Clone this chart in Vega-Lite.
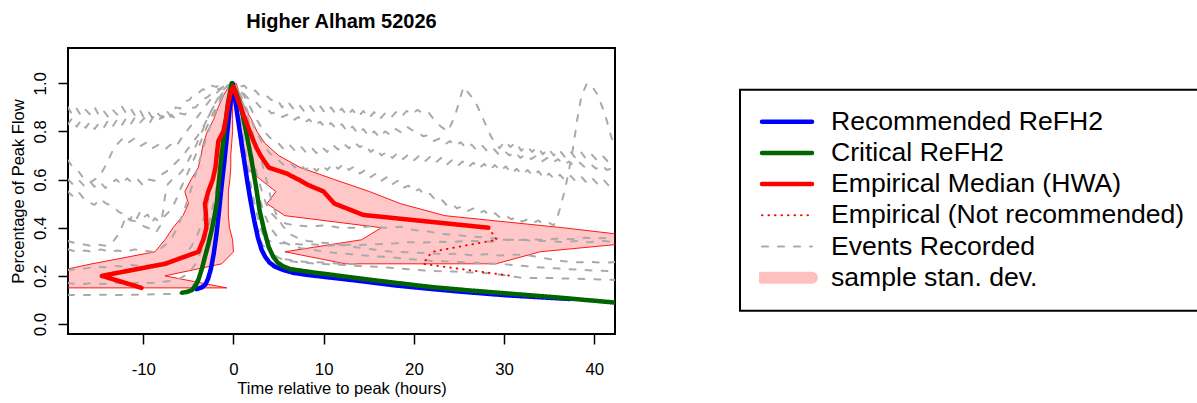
{
  "$schema": "https://vega.github.io/schema/vega-lite/v6.json",
  "width": 547,
  "height": 286,
  "autosize": {"type": "none"},
  "padding": {"left": 68, "top": 48, "right": 582, "bottom": 69},
  "background": "white",
  "title": {"text": "Higher Alham 52026", "font": "Liberation Sans", "fontSize": 20, "fontWeight": "bold", "color": "black", "anchor": "middle", "baseline": "alphabetic", "offset": 0},
  "config": {
    "view": {"stroke": "black", "strokeWidth": 2},
    "axis": {"domain": false, "grid": false, "tickColor": "black", "tickSize": 10, "tickWidth": 1.5, "labelFont": "Liberation Sans", "labelFontSize": 16.8, "labelColor": "black", "titleFont": "Liberation Sans", "titleFontSize": 16.5, "titleFontWeight": "normal", "titleColor": "black", "labelOverlap": false, "labelFlush": false},
    "legend": {"orient": "none", "legendX": 672, "legendY": 41.7, "padding": 19, "rowPadding": 4.2, "clipHeight": 26, "symbolType": "stroke", "symbolSize": 2500, "symbolOffset": -3, "labelOffset": 13, "labelFont": "Liberation Sans", "labelFontSize": 26.6, "labelColor": "black", "labelLimit": 700, "strokeColor": "black", "fillColor": "white"}
  },
  "datasets": {
    "band": [
      {"i":0,"x":-26,"y":0.15},{"i":1,"x":-22,"y":0.2},{"i":2,"x":-15.7,"y":0.25},{"i":3,"x":-8.7,"y":0.3},{"i":4,"x":-7.6,"y":0.35},{"i":5,"x":-6.7,"y":0.4},{"i":6,"x":-5.6,"y":0.45},{"i":7,"x":-5.0,"y":0.5},{"i":8,"x":-5.4,"y":0.55},{"i":9,"x":-4.7,"y":0.6},{"i":10,"x":-3.9,"y":0.65},{"i":11,"x":-3.6,"y":0.7},{"i":12,"x":-3.35,"y":0.75},{"i":13,"x":-2.9,"y":0.8},{"i":14,"x":-2.2,"y":0.85},{"i":15,"x":-1.7,"y":0.9},{"i":16,"x":-1.1,"y":0.95},{"i":17,"x":-0.3,"y":1.0},
      {"i":18,"x":0.3,"y":1.0},{"i":19,"x":0.7,"y":0.95},{"i":20,"x":1.2,"y":0.9},{"i":21,"x":2.0,"y":0.85},{"i":22,"x":2.6,"y":0.8},{"i":23,"x":3.5,"y":0.75},{"i":24,"x":5.0,"y":0.7},{"i":25,"x":7.4,"y":0.65},{"i":26,"x":11.2,"y":0.6},{"i":27,"x":15.1,"y":0.55},{"i":28,"x":18.5,"y":0.5},{"i":29,"x":23.45,"y":0.45},{"i":30,"x":36.5,"y":0.4},{"i":31,"x":48,"y":0.35},{"i":32,"x":34,"y":0.3},{"i":33,"x":29.1,"y":0.25},
      {"i":34,"x":12.4,"y":0.25},{"i":35,"x":5.7,"y":0.3},{"i":36,"x":14.2,"y":0.35},{"i":37,"x":16.4,"y":0.4},{"i":38,"x":5.7,"y":0.45},{"i":39,"x":3.7,"y":0.5},{"i":40,"x":4.7,"y":0.55},{"i":41,"x":3.0,"y":0.6},{"i":42,"x":1.4,"y":0.65},{"i":43,"x":0.9,"y":0.7},{"i":44,"x":0.7,"y":0.75},{"i":45,"x":0.55,"y":0.8},{"i":46,"x":0.4,"y":0.85},{"i":47,"x":0.3,"y":0.9},{"i":48,"x":0.15,"y":0.95},{"i":49,"x":0.05,"y":1.0},
      {"i":50,"x":-0.05,"y":1.0},{"i":51,"x":-0.1,"y":0.95},{"i":52,"x":-0.1,"y":0.9},{"i":53,"x":-0.1,"y":0.85},{"i":54,"x":-0.1,"y":0.8},{"i":55,"x":-0.2,"y":0.75},{"i":56,"x":-0.3,"y":0.7},{"i":57,"x":-0.3,"y":0.65},{"i":58,"x":-0.4,"y":0.6},{"i":59,"x":-0.57,"y":0.55},{"i":60,"x":-0.57,"y":0.5},{"i":61,"x":-0.57,"y":0.45},{"i":62,"x":-0.45,"y":0.4},{"i":63,"x":-0.1,"y":0.35},{"i":64,"x":0.0,"y":0.3},{"i":65,"x":-1.3,"y":0.25},{"i":66,"x":-7.6,"y":0.2},{"i":67,"x":-0.75,"y":0.15}
    ],
    "events": [
      {"e":1,"x":-18.35,"y":0.9},{"e":1,"x":-17.9,"y":0.87},{"e":1,"x":-17.4,"y":0.895},{"e":1,"x":-16.9,"y":0.865},{"e":1,"x":-16.4,"y":0.89},{"e":1,"x":-15.9,"y":0.87},{"e":1,"x":-15.4,"y":0.9},{"e":1,"x":-14.9,"y":0.865},{"e":1,"x":-14.4,"y":0.885},{"e":1,"x":-13.9,"y":0.86},{"e":1,"x":-13.4,"y":0.89},{"e":1,"x":-12.9,"y":0.87},{"e":1,"x":-12.4,"y":0.905},{"e":1,"x":-11.9,"y":0.875},{"e":1,"x":-11.4,"y":0.895},{"e":1,"x":-10.9,"y":0.865},{"e":1,"x":-10.4,"y":0.89},{"e":1,"x":-9.9,"y":0.855},{"e":1,"x":-9.4,"y":0.88},{"e":1,"x":-8.9,"y":0.85},{"e":1,"x":-8.4,"y":0.875},{"e":1,"x":-7.9,"y":0.855},{"e":1,"x":-7.4,"y":0.885},{"e":1,"x":-6.9,"y":0.86},{"e":1,"x":-6.4,"y":0.9},{"e":1,"x":-5.9,"y":0.895},{"e":1,"x":-5.4,"y":0.925},{"e":1,"x":-4.9,"y":0.93},{"e":1,"x":-4.4,"y":0.955},{"e":1,"x":-3.9,"y":0.96},{"e":1,"x":-3.4,"y":0.975},{"e":1,"x":-2.9,"y":0.97},{"e":1,"x":-2.4,"y":0.99},{"e":1,"x":-1.9,"y":0.985},{"e":1,"x":-1.4,"y":0.995},{"e":1,"x":-0.7,"y":0.99},{"e":1,"x":0,"y":1.0},{"e":1,"x":0.6,"y":0.985},{"e":1,"x":1.2,"y":0.99},{"e":1,"x":1.8,"y":0.965},{"e":1,"x":2.4,"y":0.97},{"e":1,"x":3,"y":0.945},{"e":1,"x":3.6,"y":0.95},{"e":1,"x":4.2,"y":0.93},{"e":1,"x":4.8,"y":0.935},{"e":1,"x":5.4,"y":0.9},{"e":1,"x":6,"y":0.925},{"e":1,"x":6.6,"y":0.895},{"e":1,"x":7.2,"y":0.915},{"e":1,"x":7.8,"y":0.885},{"e":1,"x":8.4,"y":0.91},{"e":1,"x":9,"y":0.88},{"e":1,"x":9.6,"y":0.905},{"e":1,"x":10.2,"y":0.875},{"e":1,"x":10.8,"y":0.9},{"e":1,"x":11.4,"y":0.87},{"e":1,"x":12,"y":0.895},{"e":1,"x":12.6,"y":0.865},{"e":1,"x":13.2,"y":0.89},{"e":1,"x":13.8,"y":0.86},{"e":1,"x":14.4,"y":0.885},{"e":1,"x":15,"y":0.855},{"e":1,"x":15.6,"y":0.88},{"e":1,"x":16.2,"y":0.85},{"e":1,"x":16.8,"y":0.875},{"e":1,"x":17.4,"y":0.855},{"e":1,"x":18,"y":0.88},{"e":1,"x":18.6,"y":0.86},{"e":1,"x":19.2,"y":0.885},{"e":1,"x":19.8,"y":0.87},{"e":1,"x":20.4,"y":0.89},{"e":1,"x":21,"y":0.875},{"e":1,"x":21.6,"y":0.88},{"e":1,"x":22.2,"y":0.85},{"e":1,"x":23,"y":0.82},{"e":1,"x":23.8,"y":0.8},{"e":1,"x":24.6,"y":0.87},{"e":1,"x":25.5,"y":0.985},{"e":1,"x":26.8,"y":0.925},{"e":1,"x":27.7,"y":0.85},{"e":1,"x":28.6,"y":0.775},{"e":1,"x":29.5,"y":0.73},{"e":1,"x":30.1,"y":0.76},{"e":1,"x":30.7,"y":0.735},{"e":1,"x":31.3,"y":0.755},{"e":1,"x":31.9,"y":0.72},{"e":1,"x":32.5,"y":0.74},{"e":1,"x":33.1,"y":0.715},{"e":1,"x":33.7,"y":0.735},{"e":1,"x":34.3,"y":0.705},{"e":1,"x":34.9,"y":0.73},{"e":1,"x":35.5,"y":0.7},{"e":1,"x":36.1,"y":0.725},{"e":1,"x":36.7,"y":0.695},{"e":1,"x":37.3,"y":0.72},{"e":1,"x":37.9,"y":0.69},{"e":1,"x":38.5,"y":0.715},{"e":1,"x":39.1,"y":0.685},{"e":1,"x":39.7,"y":0.705},{"e":1,"x":40.3,"y":0.68},{"e":1,"x":40.9,"y":0.7},{"e":1,"x":41.5,"y":0.675},{"e":1,"x":42.3,"y":0.695},
      {"e":2,"x":-18.35,"y":0.83},{"e":2,"x":-17.9,"y":0.855},{"e":2,"x":-17.4,"y":0.82},{"e":2,"x":-16.9,"y":0.845},{"e":2,"x":-16.4,"y":0.815},{"e":2,"x":-15.9,"y":0.84},{"e":2,"x":-15.4,"y":0.81},{"e":2,"x":-14.9,"y":0.835},{"e":2,"x":-14.4,"y":0.815},{"e":2,"x":-13.9,"y":0.845},{"e":2,"x":-13.4,"y":0.82},{"e":2,"x":-12.9,"y":0.85},{"e":2,"x":-12.4,"y":0.825},{"e":2,"x":-11.9,"y":0.855},{"e":2,"x":-11.4,"y":0.83},{"e":2,"x":-10.9,"y":0.86},{"e":2,"x":-10.4,"y":0.835},{"e":2,"x":-9.9,"y":0.855},{"e":2,"x":-9.4,"y":0.83},{"e":2,"x":-8.9,"y":0.86},{"e":2,"x":-8.4,"y":0.84},{"e":2,"x":-7.9,"y":0.865},{"e":2,"x":-7.4,"y":0.845},{"e":2,"x":-6.9,"y":0.87},{"e":2,"x":-6.4,"y":0.85},{"e":2,"x":-5.9,"y":0.875},{"e":2,"x":-5.4,"y":0.87},{"e":2,"x":-4.9,"y":0.895},{"e":2,"x":-4.2,"y":0.9},{"e":2,"x":-3.5,"y":0.93},{"e":2,"x":-2.8,"y":0.945},{"e":2,"x":-2.1,"y":0.97},{"e":2,"x":-1.4,"y":0.98},{"e":2,"x":-0.7,"y":0.995},{"e":2,"x":0,"y":1.0},{"e":2,"x":0.6,"y":0.97},{"e":2,"x":1.2,"y":0.955},{"e":2,"x":1.8,"y":0.93},{"e":2,"x":2.4,"y":0.925},{"e":2,"x":3,"y":0.9},{"e":2,"x":3.6,"y":0.9},{"e":2,"x":4.2,"y":0.875},{"e":2,"x":4.8,"y":0.88},{"e":2,"x":5.4,"y":0.86},{"e":2,"x":6,"y":0.87},{"e":2,"x":6.6,"y":0.845},{"e":2,"x":7.2,"y":0.86},{"e":2,"x":7.8,"y":0.835},{"e":2,"x":8.4,"y":0.85},{"e":2,"x":9,"y":0.825},{"e":2,"x":9.6,"y":0.84},{"e":2,"x":10.2,"y":0.815},{"e":2,"x":10.8,"y":0.835},{"e":2,"x":11.4,"y":0.81},{"e":2,"x":12,"y":0.83},{"e":2,"x":12.6,"y":0.8},{"e":2,"x":13.2,"y":0.82},{"e":2,"x":13.8,"y":0.79},{"e":2,"x":14.4,"y":0.81},{"e":2,"x":15,"y":0.78},{"e":2,"x":15.6,"y":0.8},{"e":2,"x":16.2,"y":0.775},{"e":2,"x":16.8,"y":0.8},{"e":2,"x":17.4,"y":0.785},{"e":2,"x":18,"y":0.81},{"e":2,"x":18.6,"y":0.795},{"e":2,"x":19.2,"y":0.82},{"e":2,"x":19.8,"y":0.805},{"e":2,"x":20.4,"y":0.8},{"e":2,"x":21,"y":0.78},{"e":2,"x":21.6,"y":0.785},{"e":2,"x":22.2,"y":0.76},{"e":2,"x":22.8,"y":0.77},{"e":2,"x":23.4,"y":0.745},{"e":2,"x":24,"y":0.76},{"e":2,"x":24.6,"y":0.74},{"e":2,"x":25.2,"y":0.755},{"e":2,"x":25.8,"y":0.73},{"e":2,"x":26.4,"y":0.745},{"e":2,"x":27,"y":0.72},{"e":2,"x":27.6,"y":0.74},{"e":2,"x":28.2,"y":0.715},{"e":2,"x":28.8,"y":0.73},{"e":2,"x":29.4,"y":0.705},{"e":2,"x":30,"y":0.72},{"e":2,"x":30.6,"y":0.7},{"e":2,"x":31.2,"y":0.715},{"e":2,"x":31.8,"y":0.69},{"e":2,"x":32.4,"y":0.705},{"e":2,"x":33,"y":0.685},{"e":2,"x":33.6,"y":0.7},{"e":2,"x":34.2,"y":0.675},{"e":2,"x":34.8,"y":0.69},{"e":2,"x":35.4,"y":0.67},{"e":2,"x":36,"y":0.685},{"e":2,"x":36.6,"y":0.66},{"e":2,"x":37.2,"y":0.675},{"e":2,"x":37.8,"y":0.655},{"e":2,"x":38.4,"y":0.67},{"e":2,"x":39,"y":0.65},{"e":2,"x":39.6,"y":0.665},{"e":2,"x":40.2,"y":0.645},{"e":2,"x":40.8,"y":0.66},{"e":2,"x":41.4,"y":0.64},{"e":2,"x":42.3,"y":0.65},
      {"e":3,"x":-18.35,"y":0.68},{"e":3,"x":-17.8,"y":0.65},{"e":3,"x":-17.2,"y":0.635},{"e":3,"x":-16.5,"y":0.6},{"e":3,"x":-15.8,"y":0.59},{"e":3,"x":-15.2,"y":0.605},{"e":3,"x":-14.6,"y":0.63},{"e":3,"x":-14,"y":0.67},{"e":3,"x":-13.4,"y":0.72},{"e":3,"x":-12.8,"y":0.75},{"e":3,"x":-12.2,"y":0.775},{"e":3,"x":-11.6,"y":0.755},{"e":3,"x":-11,"y":0.77},{"e":3,"x":-10.3,"y":0.74},{"e":3,"x":-9.6,"y":0.755},{"e":3,"x":-9,"y":0.73},{"e":3,"x":-8.3,"y":0.745},{"e":3,"x":-7.6,"y":0.725},{"e":3,"x":-7,"y":0.745},{"e":3,"x":-6.4,"y":0.735},{"e":3,"x":-5.8,"y":0.77},{"e":3,"x":-5.2,"y":0.8},{"e":3,"x":-4.6,"y":0.83},{"e":3,"x":-4,"y":0.86},{"e":3,"x":-3.2,"y":0.9},{"e":3,"x":-2.4,"y":0.94},{"e":3,"x":-1.6,"y":0.97},{"e":3,"x":-0.8,"y":0.99},{"e":3,"x":0,"y":1.0},{"e":3,"x":0.8,"y":0.97},{"e":3,"x":1.6,"y":0.92},{"e":3,"x":2.4,"y":0.86},{"e":3,"x":3.2,"y":0.81},{"e":3,"x":4,"y":0.775},{"e":3,"x":5,"y":0.75},{"e":3,"x":5.6,"y":0.725},{"e":3,"x":6.2,"y":0.745},{"e":3,"x":6.8,"y":0.72},{"e":3,"x":7.4,"y":0.74},{"e":3,"x":8,"y":0.715},{"e":3,"x":8.6,"y":0.735},{"e":3,"x":9.2,"y":0.71},{"e":3,"x":9.8,"y":0.735},{"e":3,"x":10.4,"y":0.715},{"e":3,"x":11,"y":0.745},{"e":3,"x":11.6,"y":0.725},{"e":3,"x":12.2,"y":0.75},{"e":3,"x":12.8,"y":0.73},{"e":3,"x":13.4,"y":0.755},{"e":3,"x":14,"y":0.735},{"e":3,"x":14.6,"y":0.745},{"e":3,"x":15.2,"y":0.715},{"e":3,"x":15.8,"y":0.73},{"e":3,"x":16.4,"y":0.7},{"e":3,"x":17,"y":0.715},{"e":3,"x":17.6,"y":0.69},{"e":3,"x":18.2,"y":0.71},{"e":3,"x":18.8,"y":0.685},{"e":3,"x":19.4,"y":0.705},{"e":3,"x":20,"y":0.68},{"e":3,"x":20.6,"y":0.7},{"e":3,"x":21.2,"y":0.675},{"e":3,"x":21.8,"y":0.695},{"e":3,"x":22.4,"y":0.67},{"e":3,"x":23,"y":0.69},{"e":3,"x":23.6,"y":0.66},{"e":3,"x":24.2,"y":0.68},{"e":3,"x":24.8,"y":0.655},{"e":3,"x":25.4,"y":0.675},{"e":3,"x":26,"y":0.65},{"e":3,"x":26.6,"y":0.67},{"e":3,"x":27.2,"y":0.645},{"e":3,"x":27.8,"y":0.665},{"e":3,"x":28.4,"y":0.64},{"e":3,"x":29,"y":0.66},{"e":3,"x":29.6,"y":0.635},{"e":3,"x":30.2,"y":0.655},{"e":3,"x":30.8,"y":0.625},{"e":3,"x":31.4,"y":0.645},{"e":3,"x":32,"y":0.62},{"e":3,"x":32.6,"y":0.64},{"e":3,"x":33.2,"y":0.615},{"e":3,"x":33.8,"y":0.635},{"e":3,"x":34.4,"y":0.605},{"e":3,"x":35,"y":0.625},{"e":3,"x":35.6,"y":0.6},{"e":3,"x":36.2,"y":0.62},{"e":3,"x":36.8,"y":0.595},{"e":3,"x":37.4,"y":0.615},{"e":3,"x":38,"y":0.59},{"e":3,"x":38.6,"y":0.61},{"e":3,"x":39.2,"y":0.585},{"e":3,"x":39.8,"y":0.605},{"e":3,"x":40.4,"y":0.58},{"e":3,"x":41,"y":0.6},{"e":3,"x":41.6,"y":0.575},{"e":3,"x":42.3,"y":0.59},
      {"e":4,"x":-18.35,"y":0.6},{"e":4,"x":-17.8,"y":0.58},{"e":4,"x":-17.2,"y":0.6},{"e":4,"x":-16.6,"y":0.575},{"e":4,"x":-16,"y":0.595},{"e":4,"x":-15.4,"y":0.57},{"e":4,"x":-14.8,"y":0.59},{"e":4,"x":-14.2,"y":0.565},{"e":4,"x":-13.6,"y":0.585},{"e":4,"x":-13,"y":0.6},{"e":4,"x":-12.4,"y":0.58},{"e":4,"x":-11.8,"y":0.605},{"e":4,"x":-11.2,"y":0.585},{"e":4,"x":-10.6,"y":0.6},{"e":4,"x":-10,"y":0.575},{"e":4,"x":-9.4,"y":0.6},{"e":4,"x":-8.8,"y":0.595},{"e":4,"x":-8,"y":0.62},{"e":4,"x":-7.2,"y":0.64},{"e":4,"x":-6.4,"y":0.67},{"e":4,"x":-5.6,"y":0.7},{"e":4,"x":-4.8,"y":0.74},{"e":4,"x":-4,"y":0.78},{"e":4,"x":-3.2,"y":0.83},{"e":4,"x":-2.4,"y":0.89},{"e":4,"x":-1.6,"y":0.94},{"e":4,"x":-0.8,"y":0.98},{"e":4,"x":0,"y":1.0},{"e":4,"x":0.8,"y":0.95},{"e":4,"x":1.6,"y":0.88},{"e":4,"x":2.4,"y":0.81},{"e":4,"x":3.2,"y":0.75},{"e":4,"x":4,"y":0.71},{"e":4,"x":5,"y":0.68},{"e":4,"x":5.6,"y":0.66},{"e":4,"x":6.2,"y":0.675},{"e":4,"x":6.8,"y":0.65},{"e":4,"x":7.4,"y":0.665},{"e":4,"x":8,"y":0.64},{"e":4,"x":8.6,"y":0.66},{"e":4,"x":9.2,"y":0.635},{"e":4,"x":9.8,"y":0.66},{"e":4,"x":10.4,"y":0.64},{"e":4,"x":11,"y":0.665},{"e":4,"x":11.6,"y":0.645},{"e":4,"x":12.2,"y":0.665},{"e":4,"x":12.8,"y":0.64},{"e":4,"x":13.4,"y":0.655},{"e":4,"x":14,"y":0.625},{"e":4,"x":14.6,"y":0.64},{"e":4,"x":15.2,"y":0.61},{"e":4,"x":15.8,"y":0.625},{"e":4,"x":16.4,"y":0.595},{"e":4,"x":17,"y":0.61},{"e":4,"x":17.6,"y":0.58},{"e":4,"x":18.2,"y":0.595},{"e":4,"x":18.8,"y":0.565},{"e":4,"x":19.4,"y":0.575},{"e":4,"x":20,"y":0.55},{"e":4,"x":20.6,"y":0.56},{"e":4,"x":21.2,"y":0.535},{"e":4,"x":21.8,"y":0.54},{"e":4,"x":22.4,"y":0.515},{"e":4,"x":23,"y":0.52},{"e":4,"x":23.6,"y":0.495},{"e":4,"x":24.2,"y":0.5},{"e":4,"x":24.8,"y":0.48},{"e":4,"x":25.4,"y":0.49},{"e":4,"x":26,"y":0.47},{"e":4,"x":26.6,"y":0.48},{"e":4,"x":27.2,"y":0.46},{"e":4,"x":27.8,"y":0.47},{"e":4,"x":28.4,"y":0.45},{"e":4,"x":29,"y":0.46},{"e":4,"x":29.6,"y":0.44},{"e":4,"x":30.2,"y":0.45},{"e":4,"x":30.8,"y":0.435},{"e":4,"x":31.4,"y":0.445},{"e":4,"x":32,"y":0.425},{"e":4,"x":32.6,"y":0.435},{"e":4,"x":33.2,"y":0.42},{"e":4,"x":33.8,"y":0.43},{"e":4,"x":34.4,"y":0.415},{"e":4,"x":35,"y":0.42},{"e":4,"x":35.5,"y":0.41},{"e":4,"x":35.8,"y":0.43},{"e":4,"x":36.2,"y":0.48},{"e":4,"x":36.7,"y":0.55},{"e":4,"x":37.1,"y":0.62},{"e":4,"x":37.6,"y":0.72},{"e":4,"x":38.2,"y":0.87},{"e":4,"x":38.6,"y":0.95},{"e":4,"x":39.2,"y":1.0},{"e":4,"x":39.8,"y":0.985},{"e":4,"x":40.4,"y":0.95},{"e":4,"x":41.2,"y":0.87},{"e":4,"x":41.9,"y":0.775},{"e":4,"x":42.3,"y":0.74},
      {"e":5,"x":-18.35,"y":0.55},{"e":5,"x":-17.8,"y":0.53},{"e":5,"x":-17.2,"y":0.55},{"e":5,"x":-16.6,"y":0.52},{"e":5,"x":-16,"y":0.505},{"e":5,"x":-15.4,"y":0.495},{"e":5,"x":-14.8,"y":0.52},{"e":5,"x":-14.1,"y":0.5},{"e":5,"x":-13.4,"y":0.49},{"e":5,"x":-12.7,"y":0.465},{"e":5,"x":-12,"y":0.455},{"e":5,"x":-11.3,"y":0.43},{"e":5,"x":-10.6,"y":0.425},{"e":5,"x":-9.9,"y":0.405},{"e":5,"x":-9.2,"y":0.395},{"e":5,"x":-8.6,"y":0.38},{"e":5,"x":-8.1,"y":0.41},{"e":5,"x":-7.8,"y":0.47},{"e":5,"x":-7.6,"y":0.53},{"e":5,"x":-7.3,"y":0.58},{"e":5,"x":-6.8,"y":0.6},{"e":5,"x":-6.2,"y":0.615},{"e":5,"x":-5.6,"y":0.64},{"e":5,"x":-5,"y":0.68},{"e":5,"x":-4.3,"y":0.73},{"e":5,"x":-3.6,"y":0.79},{"e":5,"x":-2.8,"y":0.86},{"e":5,"x":-2,"y":0.92},{"e":5,"x":-1.2,"y":0.97},{"e":5,"x":-0.5,"y":0.995},{"e":5,"x":0,"y":1.0},{"e":5,"x":0.6,"y":0.96},{"e":5,"x":1.2,"y":0.9},{"e":5,"x":1.8,"y":0.83},{"e":5,"x":2.4,"y":0.76},{"e":5,"x":3,"y":0.69},{"e":5,"x":3.5,"y":0.62},{"e":5,"x":3.9,"y":0.56},{"e":5,"x":4.3,"y":0.5},{"e":5,"x":4.8,"y":0.45},{"e":5,"x":5.4,"y":0.41},{"e":5,"x":6.2,"y":0.375},{"e":5,"x":7.2,"y":0.356},{"e":5,"x":8.2,"y":0.345},{"e":5,"x":9.3,"y":0.34},{"e":5,"x":10.5,"y":0.335},{"e":5,"x":11.7,"y":0.33},{"e":5,"x":13,"y":0.322},{"e":5,"x":14.4,"y":0.315},{"e":5,"x":16,"y":0.307},{"e":5,"x":17.6,"y":0.3},{"e":5,"x":19.4,"y":0.298},{"e":5,"x":21.8,"y":0.294},{"e":5,"x":23.5,"y":0.29},{"e":5,"x":25,"y":0.292},{"e":5,"x":26.5,"y":0.285},{"e":5,"x":28,"y":0.29},{"e":5,"x":29.5,"y":0.285},{"e":5,"x":31,"y":0.288},{"e":5,"x":32.3,"y":0.287},{"e":5,"x":33.5,"y":0.28},{"e":5,"x":35,"y":0.27},{"e":5,"x":36.4,"y":0.262},{"e":5,"x":37.9,"y":0.256},{"e":5,"x":39.5,"y":0.258},{"e":5,"x":41,"y":0.255},{"e":5,"x":42.3,"y":0.257},
      {"e":6,"x":-18.35,"y":0.345},{"e":6,"x":-17.5,"y":0.335},{"e":6,"x":-16.6,"y":0.33},{"e":6,"x":-15.8,"y":0.325},{"e":6,"x":-15,"y":0.33},{"e":6,"x":-14.2,"y":0.325},{"e":6,"x":-13.4,"y":0.34},{"e":6,"x":-12.8,"y":0.37},{"e":6,"x":-12.3,"y":0.41},{"e":6,"x":-11.9,"y":0.45},{"e":6,"x":-11.5,"y":0.43},{"e":6,"x":-11.1,"y":0.46},{"e":6,"x":-10.7,"y":0.44},{"e":6,"x":-10.3,"y":0.47},{"e":6,"x":-9.9,"y":0.445},{"e":6,"x":-9.5,"y":0.455},{"e":6,"x":-9.1,"y":0.42},{"e":6,"x":-8.7,"y":0.44},{"e":6,"x":-8.3,"y":0.425},{"e":6,"x":-7.9,"y":0.44},{"e":6,"x":-7.3,"y":0.46},{"e":6,"x":-6.7,"y":0.49},{"e":6,"x":-6.2,"y":0.53},{"e":6,"x":-5.9,"y":0.56},{"e":6,"x":-5.4,"y":0.6},{"e":6,"x":-4.8,"y":0.65},{"e":6,"x":-4.1,"y":0.71},{"e":6,"x":-3.4,"y":0.78},{"e":6,"x":-2.6,"y":0.85},{"e":6,"x":-1.8,"y":0.91},{"e":6,"x":-1,"y":0.96},{"e":6,"x":-0.4,"y":0.99},{"e":6,"x":0,"y":1.0},{"e":6,"x":0.6,"y":0.93},{"e":6,"x":1.2,"y":0.84},{"e":6,"x":1.8,"y":0.74},{"e":6,"x":2.4,"y":0.65},{"e":6,"x":3,"y":0.57},{"e":6,"x":3.6,"y":0.5},{"e":6,"x":4.2,"y":0.46},{"e":6,"x":5,"y":0.43},{"e":6,"x":6,"y":0.415},{"e":6,"x":7,"y":0.41},{"e":6,"x":8.5,"y":0.405},{"e":6,"x":10,"y":0.41},{"e":6,"x":11.8,"y":0.4},{"e":6,"x":13.5,"y":0.4},{"e":6,"x":15,"y":0.405},{"e":6,"x":16.8,"y":0.4},{"e":6,"x":18.6,"y":0.404},{"e":6,"x":20,"y":0.39},{"e":6,"x":21.5,"y":0.385},{"e":6,"x":23,"y":0.375},{"e":6,"x":24.5,"y":0.37},{"e":6,"x":26,"y":0.365},{"e":6,"x":27.5,"y":0.36},{"e":6,"x":29,"y":0.355},{"e":6,"x":30.5,"y":0.35},{"e":6,"x":32,"y":0.35},{"e":6,"x":33.5,"y":0.345},{"e":6,"x":35,"y":0.345},{"e":6,"x":36.5,"y":0.34},{"e":6,"x":38,"y":0.345},{"e":6,"x":39.5,"y":0.34},{"e":6,"x":41,"y":0.345},{"e":6,"x":42.3,"y":0.34},
      {"e":7,"x":-18.35,"y":0.31},{"e":7,"x":-17.4,"y":0.3},{"e":7,"x":-16.5,"y":0.305},{"e":7,"x":-15.6,"y":0.3},{"e":7,"x":-14.7,"y":0.31},{"e":7,"x":-13.8,"y":0.3},{"e":7,"x":-12.9,"y":0.305},{"e":7,"x":-12,"y":0.3},{"e":7,"x":-11,"y":0.31},{"e":7,"x":-10,"y":0.305},{"e":7,"x":-9,"y":0.3},{"e":7,"x":-8.2,"y":0.31},{"e":7,"x":-7.5,"y":0.33},{"e":7,"x":-6.8,"y":0.36},{"e":7,"x":-6.1,"y":0.41},{"e":7,"x":-5.4,"y":0.48},{"e":7,"x":-4.7,"y":0.56},{"e":7,"x":-4,"y":0.65},{"e":7,"x":-3.3,"y":0.74},{"e":7,"x":-2.6,"y":0.82},{"e":7,"x":-1.9,"y":0.89},{"e":7,"x":-1.2,"y":0.95},{"e":7,"x":-0.5,"y":0.99},{"e":7,"x":0,"y":1.0},{"e":7,"x":0.5,"y":0.93},{"e":7,"x":1.1,"y":0.83},{"e":7,"x":1.7,"y":0.72},{"e":7,"x":2.3,"y":0.61},{"e":7,"x":2.9,"y":0.52},{"e":7,"x":3.5,"y":0.45},{"e":7,"x":4.1,"y":0.4},{"e":7,"x":4.8,"y":0.365},{"e":7,"x":5.6,"y":0.34},{"e":7,"x":6.5,"y":0.325},{"e":7,"x":7.5,"y":0.315},{"e":7,"x":8.7,"y":0.31},{"e":7,"x":10,"y":0.3},{"e":7,"x":11.5,"y":0.295},{"e":7,"x":13,"y":0.29},{"e":7,"x":14.5,"y":0.285},{"e":7,"x":16,"y":0.28},{"e":7,"x":17.5,"y":0.278},{"e":7,"x":19,"y":0.27},{"e":7,"x":20.5,"y":0.268},{"e":7,"x":22,"y":0.262},{"e":7,"x":23.5,"y":0.26},{"e":7,"x":25,"y":0.258},{"e":7,"x":26.5,"y":0.255},{"e":7,"x":28,"y":0.252},{"e":7,"x":29.5,"y":0.25},{"e":7,"x":31,"y":0.245},{"e":7,"x":32.5,"y":0.24},{"e":7,"x":34,"y":0.235},{"e":7,"x":35.5,"y":0.232},{"e":7,"x":37,"y":0.228},{"e":7,"x":38.5,"y":0.225},{"e":7,"x":40,"y":0.222},{"e":7,"x":41.5,"y":0.22},{"e":7,"x":42.3,"y":0.22},
      {"e":8,"x":-18.35,"y":0.224},{"e":8,"x":-17.3,"y":0.228},{"e":8,"x":-16.3,"y":0.232},{"e":8,"x":-15.3,"y":0.238},{"e":8,"x":-14.3,"y":0.236},{"e":8,"x":-13.3,"y":0.242},{"e":8,"x":-12.3,"y":0.238},{"e":8,"x":-11.3,"y":0.245},{"e":8,"x":-10.3,"y":0.24},{"e":8,"x":-9.3,"y":0.244},{"e":8,"x":-8.3,"y":0.24},{"e":8,"x":-7.5,"y":0.245},{"e":8,"x":-6.8,"y":0.255},{"e":8,"x":-6.1,"y":0.27},{"e":8,"x":-5.4,"y":0.29},{"e":8,"x":-4.7,"y":0.32},{"e":8,"x":-4,"y":0.37},{"e":8,"x":-3.3,"y":0.44},{"e":8,"x":-2.6,"y":0.54},{"e":8,"x":-1.9,"y":0.66},{"e":8,"x":-1.2,"y":0.8},{"e":8,"x":-0.5,"y":0.93},{"e":8,"x":0,"y":1.0},{"e":8,"x":0.5,"y":0.9},{"e":8,"x":1,"y":0.79},{"e":8,"x":1.5,"y":0.67},{"e":8,"x":2,"y":0.56},{"e":8,"x":2.5,"y":0.47},{"e":8,"x":3,"y":0.4},{"e":8,"x":3.6,"y":0.34},{"e":8,"x":4.2,"y":0.3},{"e":8,"x":5,"y":0.275},{"e":8,"x":6,"y":0.262},{"e":8,"x":7.3,"y":0.256},{"e":8,"x":8.7,"y":0.252},{"e":8,"x":10.5,"y":0.248},{"e":8,"x":12.5,"y":0.245},{"e":8,"x":14.3,"y":0.24},{"e":8,"x":16,"y":0.238},{"e":8,"x":18,"y":0.232},{"e":8,"x":20.5,"y":0.224},{"e":8,"x":22.5,"y":0.22},{"e":8,"x":24.5,"y":0.218},{"e":8,"x":26.5,"y":0.214},{"e":8,"x":28.5,"y":0.21},{"e":8,"x":30.5,"y":0.2},{"e":8,"x":32.3,"y":0.19},{"e":8,"x":34,"y":0.192},{"e":8,"x":36,"y":0.19},{"e":8,"x":38,"y":0.188},{"e":8,"x":40,"y":0.186},{"e":8,"x":42.3,"y":0.183},
      {"e":9,"x":-18.35,"y":0.17},{"e":9,"x":-17,"y":0.165},{"e":9,"x":-15.7,"y":0.17},{"e":9,"x":-14.4,"y":0.166},{"e":9,"x":-13.1,"y":0.17},{"e":9,"x":-11.8,"y":0.168},{"e":9,"x":-10.5,"y":0.172},{"e":9,"x":-9.2,"y":0.17},{"e":9,"x":-7.9,"y":0.175},{"e":9,"x":-6.8,"y":0.18},{"e":9,"x":-5.9,"y":0.19},{"e":9,"x":-5,"y":0.21},{"e":9,"x":-4.2,"y":0.25},{"e":9,"x":-3.5,"y":0.31},{"e":9,"x":-2.8,"y":0.4},{"e":9,"x":-2.1,"y":0.52},{"e":9,"x":-1.4,"y":0.67},{"e":9,"x":-0.7,"y":0.84},{"e":9,"x":0,"y":1.0},{"e":9,"x":0.5,"y":0.88},{"e":9,"x":1,"y":0.74},{"e":9,"x":1.5,"y":0.6},{"e":9,"x":2,"y":0.49},{"e":9,"x":2.5,"y":0.41},{"e":9,"x":3,"y":0.37},{"e":9,"x":3.6,"y":0.35},{"e":9,"x":4.3,"y":0.34},{"e":9,"x":5.2,"y":0.335},{"e":9,"x":6.3,"y":0.335},{"e":9,"x":7.5,"y":0.33},{"e":9,"x":9,"y":0.33},{"e":9,"x":10.5,"y":0.325},{"e":9,"x":12,"y":0.33},{"e":9,"x":13.5,"y":0.328},{"e":9,"x":15,"y":0.33},{"e":9,"x":16.5,"y":0.332},{"e":9,"x":18,"y":0.335},{"e":9,"x":19.5,"y":0.34},{"e":9,"x":21,"y":0.338},{"e":9,"x":22.5,"y":0.342},{"e":9,"x":24,"y":0.34},{"e":9,"x":25.5,"y":0.344},{"e":9,"x":27,"y":0.345},{"e":9,"x":28.5,"y":0.342},{"e":9,"x":30,"y":0.35},{"e":9,"x":31.5,"y":0.348},{"e":9,"x":33,"y":0.352},{"e":9,"x":34.5,"y":0.35},{"e":9,"x":36,"y":0.355},{"e":9,"x":37.5,"y":0.352},{"e":9,"x":39,"y":0.358},{"e":9,"x":40.5,"y":0.356},{"e":9,"x":42.3,"y":0.36},
      {"e":10,"x":-18.35,"y":0.12},{"e":10,"x":-16.5,"y":0.12},{"e":10,"x":-14.5,"y":0.122},{"e":10,"x":-12.5,"y":0.12},{"e":10,"x":-10.5,"y":0.122},{"e":10,"x":-8.5,"y":0.124},{"e":10,"x":-7,"y":0.125},{"e":10,"x":-5.7,"y":0.128},{"e":10,"x":-5,"y":0.14},{"e":10,"x":-4.3,"y":0.17},{"e":10,"x":-3.6,"y":0.22},{"e":10,"x":-2.9,"y":0.3},{"e":10,"x":-2.2,"y":0.42},{"e":10,"x":-1.5,"y":0.58},{"e":10,"x":-0.8,"y":0.77},{"e":10,"x":0,"y":1.0},{"e":10,"x":0.5,"y":0.85},{"e":10,"x":1,"y":0.7},{"e":10,"x":1.5,"y":0.57},{"e":10,"x":2,"y":0.46},{"e":10,"x":2.6,"y":0.38},{"e":10,"x":3.2,"y":0.33},{"e":10,"x":3.9,"y":0.3},{"e":10,"x":4.7,"y":0.28},{"e":10,"x":5.6,"y":0.27},{"e":10,"x":6.8,"y":0.262},{"e":10,"x":8.2,"y":0.258},{"e":10,"x":10,"y":0.255},{"e":10,"x":12,"y":0.25},{"e":10,"x":14,"y":0.248}
    ],
    "curves": [
      {"s":"Recommended ReFH2","i":0,"x":-4.1,"y":0.145},{"s":"Recommended ReFH2","i":1,"x":-3.5,"y":0.152},{"s":"Recommended ReFH2","i":2,"x":-3.1,"y":0.165},{"s":"Recommended ReFH2","i":3,"x":-2.8,"y":0.19},{"s":"Recommended ReFH2","i":4,"x":-2.5,"y":0.23},{"s":"Recommended ReFH2","i":5,"x":-2.2,"y":0.29},{"s":"Recommended ReFH2","i":6,"x":-1.9,"y":0.37},{"s":"Recommended ReFH2","i":7,"x":-1.6,"y":0.47},{"s":"Recommended ReFH2","i":8,"x":-1.3,"y":0.58},{"s":"Recommended ReFH2","i":9,"x":-1.0,"y":0.68},{"s":"Recommended ReFH2","i":10,"x":-0.7,"y":0.79},{"s":"Recommended ReFH2","i":11,"x":-0.4,"y":0.9},{"s":"Recommended ReFH2","i":12,"x":-0.1,"y":1.0},{"s":"Recommended ReFH2","i":13,"x":0.3,"y":0.9},{"s":"Recommended ReFH2","i":14,"x":0.7,"y":0.8},{"s":"Recommended ReFH2","i":15,"x":1.1,"y":0.7},{"s":"Recommended ReFH2","i":16,"x":1.5,"y":0.6},{"s":"Recommended ReFH2","i":17,"x":1.9,"y":0.51},{"s":"Recommended ReFH2","i":18,"x":2.3,"y":0.43},{"s":"Recommended ReFH2","i":19,"x":2.7,"y":0.36},{"s":"Recommended ReFH2","i":20,"x":3.1,"y":0.31},{"s":"Recommended ReFH2","i":21,"x":3.5,"y":0.28},{"s":"Recommended ReFH2","i":22,"x":4.0,"y":0.255},{"s":"Recommended ReFH2","i":23,"x":4.6,"y":0.238},{"s":"Recommended ReFH2","i":24,"x":5.5,"y":0.225},{"s":"Recommended ReFH2","i":25,"x":6.6,"y":0.213},{"s":"Recommended ReFH2","i":26,"x":8,"y":0.205},{"s":"Recommended ReFH2","i":27,"x":10,"y":0.196},{"s":"Recommended ReFH2","i":28,"x":12.4,"y":0.186},{"s":"Recommended ReFH2","i":29,"x":15,"y":0.174},{"s":"Recommended ReFH2","i":30,"x":18,"y":0.16},{"s":"Recommended ReFH2","i":31,"x":21.8,"y":0.146},{"s":"Recommended ReFH2","i":32,"x":25,"y":0.135},{"s":"Recommended ReFH2","i":33,"x":30,"y":0.12},{"s":"Recommended ReFH2","i":34,"x":34,"y":0.111},{"s":"Recommended ReFH2","i":35,"x":37.3,"y":0.104},
      {"s":"Critical ReFH2","i":0,"x":-5.7,"y":0.13},{"s":"Critical ReFH2","i":1,"x":-5.2,"y":0.133},{"s":"Critical ReFH2","i":2,"x":-4.6,"y":0.141},{"s":"Critical ReFH2","i":3,"x":-4.2,"y":0.16},{"s":"Critical ReFH2","i":4,"x":-3.9,"y":0.183},{"s":"Critical ReFH2","i":5,"x":-3.5,"y":0.23},{"s":"Critical ReFH2","i":6,"x":-3.16,"y":0.28},{"s":"Critical ReFH2","i":7,"x":-2.8,"y":0.33},{"s":"Critical ReFH2","i":8,"x":-2.42,"y":0.39},{"s":"Critical ReFH2","i":9,"x":-2.1,"y":0.45},{"s":"Critical ReFH2","i":10,"x":-1.86,"y":0.5},{"s":"Critical ReFH2","i":11,"x":-1.6,"y":0.6},{"s":"Critical ReFH2","i":12,"x":-1.3,"y":0.71},{"s":"Critical ReFH2","i":13,"x":-1.0,"y":0.8},{"s":"Critical ReFH2","i":14,"x":-0.6,"y":0.92},{"s":"Critical ReFH2","i":15,"x":-0.2,"y":1.0},{"s":"Critical ReFH2","i":16,"x":0.3,"y":0.96},{"s":"Critical ReFH2","i":17,"x":0.9,"y":0.89},{"s":"Critical ReFH2","i":18,"x":1.5,"y":0.78},{"s":"Critical ReFH2","i":19,"x":2.0,"y":0.68},{"s":"Critical ReFH2","i":20,"x":2.5,"y":0.57},{"s":"Critical ReFH2","i":21,"x":2.9,"y":0.47},{"s":"Critical ReFH2","i":22,"x":3.4,"y":0.39},{"s":"Critical ReFH2","i":23,"x":3.9,"y":0.32},{"s":"Critical ReFH2","i":24,"x":4.4,"y":0.28},{"s":"Critical ReFH2","i":25,"x":4.9,"y":0.255},{"s":"Critical ReFH2","i":26,"x":5.5,"y":0.24},{"s":"Critical ReFH2","i":27,"x":6.3,"y":0.228},{"s":"Critical ReFH2","i":28,"x":8.3,"y":0.217},{"s":"Critical ReFH2","i":29,"x":12.4,"y":0.197},{"s":"Critical ReFH2","i":30,"x":16,"y":0.18},{"s":"Critical ReFH2","i":31,"x":21.8,"y":0.154},{"s":"Critical ReFH2","i":32,"x":26,"y":0.14},{"s":"Critical ReFH2","i":33,"x":30,"y":0.128},{"s":"Critical ReFH2","i":34,"x":36,"y":0.11},{"s":"Critical ReFH2","i":35,"x":42.6,"y":0.088},
      {"s":"Empirical Median (HWA)","i":0,"x":-10.2,"y":0.15},{"s":"Empirical Median (HWA)","i":1,"x":-14.6,"y":0.2},{"s":"Empirical Median (HWA)","i":2,"x":-7.6,"y":0.25},{"s":"Empirical Median (HWA)","i":3,"x":-3.9,"y":0.3},{"s":"Empirical Median (HWA)","i":4,"x":-3.35,"y":0.35},{"s":"Empirical Median (HWA)","i":5,"x":-3.0,"y":0.4},{"s":"Empirical Median (HWA)","i":6,"x":-3.05,"y":0.45},{"s":"Empirical Median (HWA)","i":7,"x":-3.16,"y":0.5},{"s":"Empirical Median (HWA)","i":8,"x":-2.8,"y":0.55},{"s":"Empirical Median (HWA)","i":9,"x":-2.3,"y":0.6},{"s":"Empirical Median (HWA)","i":10,"x":-2.0,"y":0.65},{"s":"Empirical Median (HWA)","i":11,"x":-1.86,"y":0.7},{"s":"Empirical Median (HWA)","i":12,"x":-1.68,"y":0.76},{"s":"Empirical Median (HWA)","i":13,"x":-1.13,"y":0.8},{"s":"Empirical Median (HWA)","i":14,"x":-0.85,"y":0.85},{"s":"Empirical Median (HWA)","i":15,"x":-0.57,"y":0.92},{"s":"Empirical Median (HWA)","i":16,"x":-0.2,"y":0.975},{"s":"Empirical Median (HWA)","i":17,"x":0.0,"y":0.985},{"s":"Empirical Median (HWA)","i":18,"x":0.3,"y":0.95},{"s":"Empirical Median (HWA)","i":19,"x":0.6,"y":0.92},{"s":"Empirical Median (HWA)","i":20,"x":1.0,"y":0.88},{"s":"Empirical Median (HWA)","i":21,"x":1.46,"y":0.834},{"s":"Empirical Median (HWA)","i":22,"x":2.0,"y":0.78},{"s":"Empirical Median (HWA)","i":23,"x":2.57,"y":0.73},{"s":"Empirical Median (HWA)","i":24,"x":3.0,"y":0.7},{"s":"Empirical Median (HWA)","i":25,"x":3.9,"y":0.65},{"s":"Empirical Median (HWA)","i":26,"x":5.9,"y":0.625},{"s":"Empirical Median (HWA)","i":27,"x":7.2,"y":0.6},{"s":"Empirical Median (HWA)","i":28,"x":8.3,"y":0.577},{"s":"Empirical Median (HWA)","i":29,"x":9.96,"y":0.551},{"s":"Empirical Median (HWA)","i":30,"x":11.2,"y":0.5},{"s":"Empirical Median (HWA)","i":31,"x":14.4,"y":0.453},{"s":"Empirical Median (HWA)","i":32,"x":28.25,"y":0.4},
      {"s":"Empirical (Not recommended)","i":0,"x":28.25,"y":0.4},{"s":"Empirical (Not recommended)","i":1,"x":29.2,"y":0.35},{"s":"Empirical (Not recommended)","i":2,"x":22.0,"y":0.3},{"s":"Empirical (Not recommended)","i":3,"x":21.0,"y":0.25},{"s":"Empirical (Not recommended)","i":4,"x":30.8,"y":0.2}
    ]
  },
  "encoding": {
    "x": {"field": "x", "type": "quantitative", "scale": {"domain": [-18.35, 42.3], "nice": false, "zero": false},
      "axis": {"values": [-10, 0, 10, 20, 30, 40], "labelExpr": "'' + datum.value", "labelBaseline": "alphabetic", "labelPadding": 30, "title": "Time relative to peak (hours)", "titleX": 273.5, "titleY": 59.5, "titleBaseline": "alphabetic", "titleAlign": "center"}},
    "y": {"field": "y", "type": "quantitative", "scale": {"domain": [-0.0415, 1.1465], "nice": false, "zero": false},
      "axis": {"values": [0, 0.2, 0.4, 0.6, 0.8, 1.0], "format": ".1f", "labelAngle": 270, "labelAlign": "center", "labelBaseline": "alphabetic", "labelPadding": 13, "title": "Percentage of Peak Flow", "titleAngle": 270, "titleX": -45, "titleY": 143, "titleBaseline": "alphabetic", "titleAlign": "center"}}
  },
  "layer": [
    {
      "data": {"name": "band"},
      "mark": {"type": "line", "interpolate": "linear-closed", "fill": "#FF0000", "fillOpacity": 0.22, "stroke": "#FF0000", "strokeWidth": 0.9, "clip": true},
      "encoding": {"order": {"field": "i", "type": "quantitative"}}
    },
    {
      "data": {"name": "events"},
      "mark": {"type": "line", "clip": true, "strokeCap": "round", "strokeJoin": "round"},
      "encoding": {
        "detail": {"field": "e", "type": "nominal"},
        "color": {"datum": "Events Recorded", "type": "nominal",
          "scale": {"domain": ["Recommended ReFH2", "Critical ReFH2", "Empirical Median (HWA)", "Empirical (Not recommended)", "Events Recorded", "sample stan. dev."], "range": ["#0000FF", "#006400", "#FF0000", "#FF0000", "#AAAAAA", "#FFBFBF"]},
          "legend": {"title": null, "encode": {"symbols": {"update": {"strokeCap": {"value": "round"}}}, "legend": {"update": {"strokeWidth": {"value": 2}}}}}},
        "strokeDash": {"datum": "Events Recorded", "type": "nominal",
          "scale": {"domain": ["Recommended ReFH2", "Critical ReFH2", "Empirical Median (HWA)", "Empirical (Not recommended)", "Events Recorded", "sample stan. dev."], "range": [[1, 0], [1, 0], [1, 0], [0.5, 6], [6, 10], [1, 0]]},
          "legend": {"title": null}},
        "strokeWidth": {"datum": "Events Recorded", "type": "nominal",
          "scale": {"type": "ordinal", "domain": ["Recommended ReFH2", "Critical ReFH2", "Empirical Median (HWA)", "Empirical (Not recommended)", "Events Recorded", "sample stan. dev."], "range": [4.5, 4.5, 4.5, 2, 2, 12]},
          "legend": {"title": null}}
      }
    },
    {
      "data": {"name": "curves"},
      "encoding": {
        "order": {"field": "i", "type": "quantitative"},
        "color": {"field": "s", "type": "nominal",
          "scale": {"domain": ["Recommended ReFH2", "Critical ReFH2", "Empirical Median (HWA)", "Empirical (Not recommended)", "Events Recorded", "sample stan. dev."], "range": ["#0000FF", "#006400", "#FF0000", "#FF0000", "#AAAAAA", "#FFBFBF"]},
          "legend": {"title": null, "encode": {"symbols": {"update": {"strokeCap": {"value": "round"}}}, "legend": {"update": {"strokeWidth": {"value": 2}}}}}},
        "strokeDash": {"field": "s", "type": "nominal",
          "scale": {"domain": ["Recommended ReFH2", "Critical ReFH2", "Empirical Median (HWA)", "Empirical (Not recommended)", "Events Recorded", "sample stan. dev."], "range": [[1, 0], [1, 0], [1, 0], [0.5, 6], [6, 10], [1, 0]]},
          "legend": {"title": null}},
        "strokeWidth": {"field": "s", "type": "nominal",
          "scale": {"type": "ordinal", "domain": ["Recommended ReFH2", "Critical ReFH2", "Empirical Median (HWA)", "Empirical (Not recommended)", "Events Recorded", "sample stan. dev."], "range": [4.5, 4.5, 4.5, 2, 2, 12]},
          "legend": {"title": null}}
      },
      "layer": [
        {"transform": [{"filter": "datum.s === 'Recommended ReFH2'"}], "mark": {"type": "line", "clip": true, "strokeCap": "round", "strokeJoin": "round"}},
        {"transform": [{"filter": "datum.s === 'Critical ReFH2'"}], "mark": {"type": "line", "clip": true, "strokeCap": "round", "strokeJoin": "round"}},
        {"transform": [{"filter": "datum.s === 'Empirical Median (HWA)'"}], "mark": {"type": "line", "clip": true, "strokeCap": "round", "strokeJoin": "round"}},
        {"transform": [{"filter": "datum.s === 'Empirical (Not recommended)'"}], "mark": {"type": "line", "clip": true, "strokeCap": "round", "strokeJoin": "round"}}
      ]
    }
  ]
}
